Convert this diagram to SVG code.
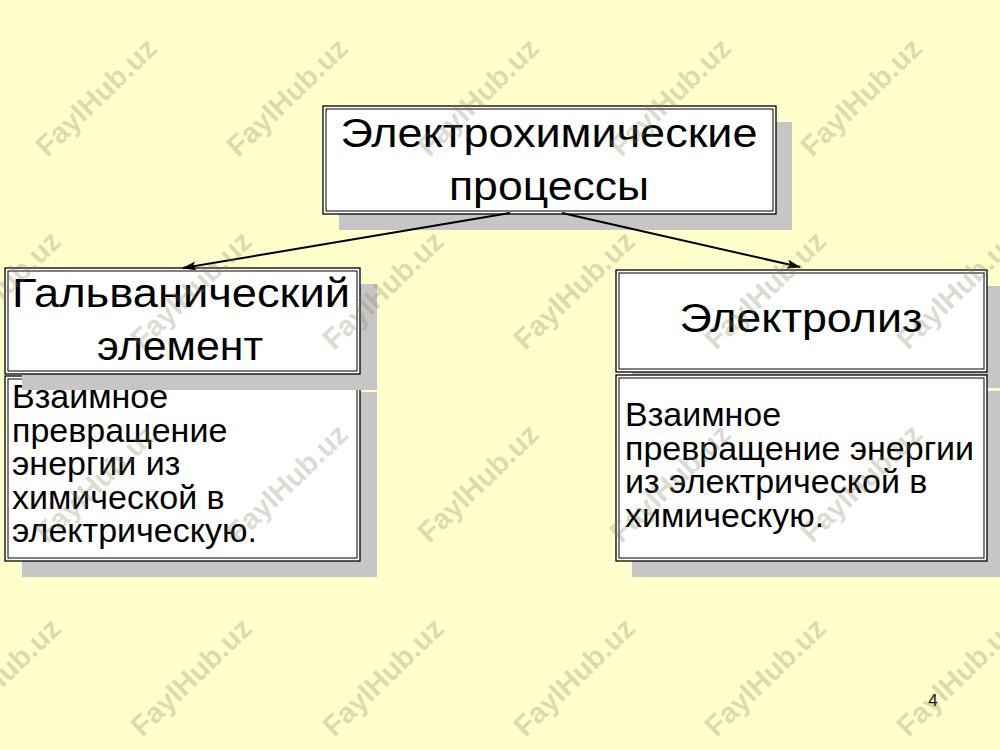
<svg xmlns="http://www.w3.org/2000/svg" width="1000" height="750" viewBox="0 0 1000 750">
<defs>
<style>
.bg{fill:#FFFFCC}
.sh{fill:#C6C6C6}
.box{fill:#FFFFFF;stroke:#000;stroke-width:1.3}
.inner{fill:none;stroke:#000;stroke-width:1}
.t{font-family:"Liberation Sans",Arial,sans-serif;fill:#000}
.title{font-size:40px;text-anchor:middle}
.body{font-size:34px}
.wm{font-family:"Liberation Sans",Arial,sans-serif;font-weight:bold;font-size:29px;fill:#808060;fill-opacity:0.28;text-anchor:middle}
.conn{stroke:#000;stroke-width:2;fill:none}
</style>
<marker id="arr" viewBox="0 0 14 9" refX="13" refY="4.5" markerWidth="14" markerHeight="9" markerUnits="userSpaceOnUse" orient="auto">
<path d="M0,0 L14,4.5 L0,9 L3,4.5 Z" fill="#000"/>
</marker>
</defs>
<rect class="bg" x="0" y="0" width="1000" height="750"/>

<g id="node-top">
<rect class="sh" x="339" y="122" width="453" height="108"/>
<rect class="box" x="323" y="106" width="453" height="108"/>
<rect class="inner" x="326" y="109" width="447" height="102"/>
<text class="t title" x="549" y="147" textLength="417" lengthAdjust="spacingAndGlyphs">Электрохимические</text>
<text class="t title" x="549" y="200" textLength="200" lengthAdjust="spacingAndGlyphs">процессы</text>
</g>

<g id="node-galvanic-desc">
<rect class="sh" x="22" y="392" width="355" height="185"/>
<rect class="box" x="5" y="376" width="355" height="185"/>
<rect class="inner" x="8" y="379" width="349" height="179"/>
<text class="t body" x="12" y="408">Взаимное</text>
<text class="t body" x="12" y="441.5">превращение</text>
<text class="t body" x="12" y="475">энергии из</text>
<text class="t body" x="12" y="508.5">химической в</text>
<text class="t body" x="12" y="542">электрическую.</text>
</g>

<g id="node-galvanic">
<rect class="sh" x="22" y="284" width="355" height="106"/>
<rect class="box" x="5" y="268" width="355" height="106"/>
<rect class="inner" x="8" y="271" width="349" height="100"/>
<text class="t title" x="181" y="307" textLength="338" lengthAdjust="spacingAndGlyphs">Гальванический</text>
<text class="t title" x="180" y="360" textLength="166" lengthAdjust="spacingAndGlyphs">элемент</text>
</g>

<g id="node-electrolysis">
<rect class="sh" x="632" y="286" width="371" height="102"/>
<rect class="box" x="616" y="270" width="371" height="102"/>
<rect class="inner" x="619" y="273" width="365" height="96"/>
<text class="t title" x="801" y="332" textLength="243" lengthAdjust="spacingAndGlyphs">Электролиз</text>
</g>

<g id="node-electrolysis-desc">
<rect class="sh" x="632" y="391" width="371" height="186"/>
<rect class="box" x="616" y="375" width="371" height="186"/>
<rect class="inner" x="619" y="378" width="365" height="180"/>
<text class="t body" x="625" y="426">Взаимное</text>
<text class="t body" x="625" y="459.5">превращение энергии</text>
<text class="t body" x="625" y="493">из электрической в</text>
<text class="t body" x="625" y="526.5">химическую.</text>
</g>

<g id="connectors">
<line class="conn" x1="510" y1="213" x2="183" y2="268" marker-end="url(#arr)"/>
<line class="conn" x1="562" y1="213" x2="800" y2="267" marker-end="url(#arr)"/>
</g>

<text class="t" x="933" y="706" font-size="17" text-anchor="middle">4</text>

<g id="watermarks">
<text class="wm" transform="translate(96,97) rotate(-44)" y="10">FaylHub.uz</text>
<text class="wm" transform="translate(287,97) rotate(-44)" y="10">FaylHub.uz</text>
<text class="wm" transform="translate(478,97) rotate(-44)" y="10">FaylHub.uz</text>
<text class="wm" transform="translate(670,97) rotate(-44)" y="10">FaylHub.uz</text>
<text class="wm" transform="translate(861,97) rotate(-44)" y="10">FaylHub.uz</text>
<text class="wm" transform="translate(0,290) rotate(-44)" y="10">FaylHub.uz</text>
<text class="wm" transform="translate(191,290) rotate(-44)" y="10">FaylHub.uz</text>
<text class="wm" transform="translate(383,290) rotate(-44)" y="10">FaylHub.uz</text>
<text class="wm" transform="translate(574,290) rotate(-44)" y="10">FaylHub.uz</text>
<text class="wm" transform="translate(765,290) rotate(-44)" y="10">FaylHub.uz</text>
<text class="wm" transform="translate(957,290) rotate(-44)" y="10">FaylHub.uz</text>
<text class="wm" transform="translate(96,483) rotate(-44)" y="10">FaylHub.uz</text>
<text class="wm" transform="translate(287,483) rotate(-44)" y="10">FaylHub.uz</text>
<text class="wm" transform="translate(478,483) rotate(-44)" y="10">FaylHub.uz</text>
<text class="wm" transform="translate(670,483) rotate(-44)" y="10">FaylHub.uz</text>
<text class="wm" transform="translate(861,483) rotate(-44)" y="10">FaylHub.uz</text>
<text class="wm" transform="translate(0,677) rotate(-44)" y="10">FaylHub.uz</text>
<text class="wm" transform="translate(191,677) rotate(-44)" y="10">FaylHub.uz</text>
<text class="wm" transform="translate(383,677) rotate(-44)" y="10">FaylHub.uz</text>
<text class="wm" transform="translate(574,677) rotate(-44)" y="10">FaylHub.uz</text>
<text class="wm" transform="translate(765,677) rotate(-44)" y="10">FaylHub.uz</text>
<text class="wm" transform="translate(957,677) rotate(-44)" y="10">FaylHub.uz</text>
</g>
</svg>
